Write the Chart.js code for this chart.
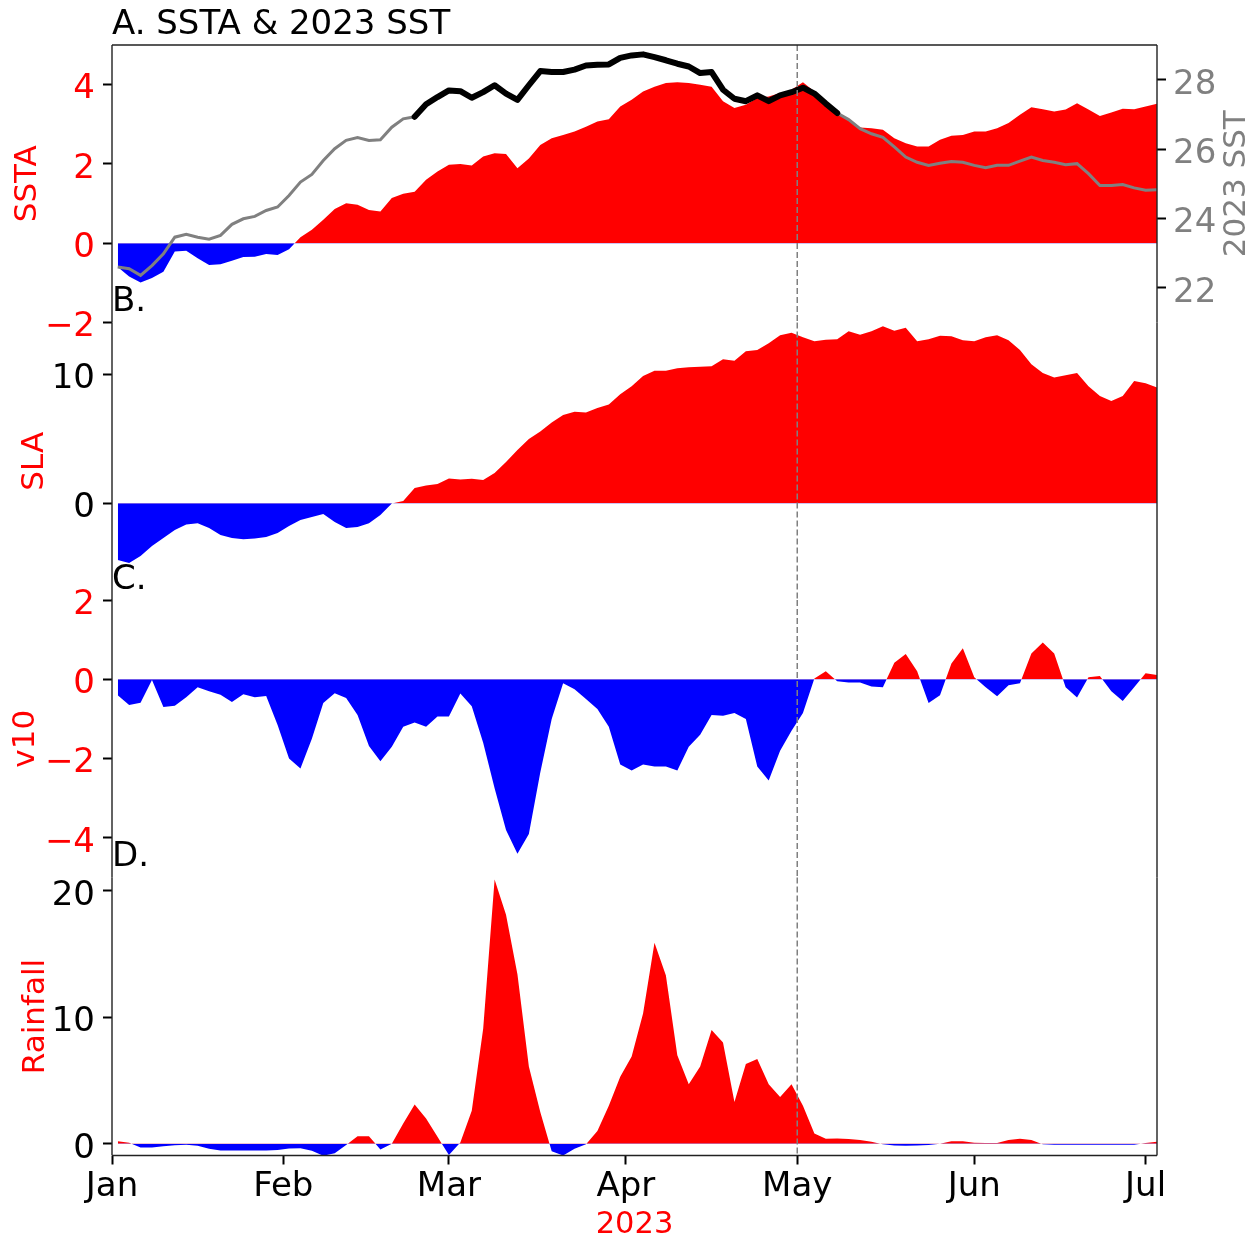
<!DOCTYPE html>
<html>
<head>
<meta charset="utf-8">
<title>SSTA, SLA, v10 and rainfall 2023</title>
<script src="https://cdn.jsdelivr.net/npm/chart.js@4.4.1/dist/chart.umd.min.js"></script>
<style>
  html, body { margin: 0; padding: 0; background: #fff; }
  #wrap { position: relative; width: 1258px; height: 1239px; }
  #wrap canvas { position: absolute; left: 0; top: 0; }
</style>
</head>
<body>
<div id="wrap">
  <canvas id="panel-a" width="1258" height="1239"></canvas>
  <canvas id="panel-b" width="1258" height="1239"></canvas>
  <canvas id="panel-c" width="1258" height="1239"></canvas>
  <canvas id="panel-d" width="1258" height="1239"></canvas>
</div>
<script>
// day of year (0 = Jan 1), every second day
const days = [1, 3, 5, 7, 9, 11, 13, 15, 17, 19, 21, 23, 25, 27, 29, 31, 33, 35, 37, 39,
  41, 43, 45, 47, 49, 51, 53, 55, 57, 59, 61, 63, 65, 67, 69, 71, 73, 75, 77, 79,
  81, 83, 85, 87, 89, 91, 93, 95, 97, 99, 101, 103, 105, 107, 109, 111, 113, 115, 117, 119,
  121, 123, 125, 127, 129, 131, 133, 135, 137, 139, 141, 143, 145, 147, 149, 151, 153, 155, 157, 159,
  161, 163, 165, 167, 169, 171, 173, 175, 177, 179, 181, 183];

const monthTicks = [0, 30, 59, 90, 120, 151, 181];
const monthLabels = ['Jan', 'Feb', 'Mar', 'Apr', 'May', 'Jun', 'Jul'];

const ssta = [-0.60, -0.84, -0.99, -0.88, -0.72, -0.21, -0.19, -0.38, -0.55, -0.53,
  -0.44, -0.35, -0.34, -0.27, -0.30, -0.15, 0.15, 0.34, 0.59, 0.86,
  1.01, 0.97, 0.84, 0.80, 1.14, 1.25, 1.30, 1.60, 1.81, 1.98,
  2.00, 1.96, 2.19, 2.27, 2.25, 1.89, 2.14, 2.48, 2.65, 2.73,
  2.82, 2.94, 3.07, 3.13, 3.45, 3.62, 3.83, 3.95, 4.04, 4.06,
  4.04, 4.00, 3.95, 3.58, 3.41, 3.49, 3.66, 3.70, 3.79, 3.87,
  4.06, 3.83, 3.58, 3.32, 3.11, 2.92, 2.90, 2.86, 2.65, 2.52,
  2.44, 2.44, 2.61, 2.71, 2.73, 2.82, 2.82, 2.90, 3.03, 3.24,
  3.43, 3.38, 3.32, 3.37, 3.53, 3.37, 3.21, 3.30, 3.39, 3.38,
  3.45, 3.52];

const sst2023 = [22.60, 22.55, 22.36, 22.64, 22.98, 23.46, 23.54, 23.46, 23.40, 23.51,
  23.83, 23.99, 24.06, 24.23, 24.33, 24.66, 25.05, 25.27, 25.67, 26.01,
  26.25, 26.33, 26.25, 26.27, 26.63, 26.87, 26.93, 27.29, 27.50, 27.69,
  27.67, 27.48, 27.64, 27.84, 27.60, 27.42, 27.84, 28.25, 28.22, 28.22,
  28.29, 28.41, 28.43, 28.44, 28.63, 28.70, 28.73, 28.65, 28.56, 28.46,
  28.38, 28.19, 28.22, 27.71, 27.45, 27.38, 27.55, 27.38, 27.55, 27.64,
  27.77, 27.60, 27.31, 27.04, 26.85, 26.59, 26.44, 26.34, 26.06, 25.77,
  25.62, 25.53, 25.59, 25.64, 25.62, 25.53, 25.46, 25.53, 25.53, 25.65,
  25.77, 25.67, 25.62, 25.55, 25.58, 25.29, 24.95, 24.95, 24.98, 24.88,
  24.81, 24.83];

const sla = [-4.40, -4.63, -4.09, -3.31, -2.69, -2.07, -1.65, -1.56, -1.92, -2.46,
  -2.69, -2.79, -2.73, -2.62, -2.31, -1.76, -1.30, -1.07, -0.84, -1.46,
  -1.92, -1.84, -1.56, -0.91, -0.02, 0.17, 1.18, 1.37, 1.49, 1.91,
  1.83, 1.90, 1.80, 2.34, 3.19, 4.12, 4.97, 5.55, 6.25, 6.83,
  7.08, 7.02, 7.37, 7.64, 8.45, 9.07, 9.85, 10.27, 10.26, 10.46,
  10.54, 10.58, 10.62, 11.16, 11.04, 11.78, 11.86, 12.40, 13.02, 13.20,
  12.86, 12.55, 12.67, 12.71, 13.33, 13.06, 13.33, 13.70, 13.37, 13.60,
  12.55, 12.71, 12.98, 12.94, 12.63, 12.55, 12.86, 13.02, 12.63, 11.86,
  10.77, 10.08, 9.74, 9.92, 10.08, 9.07, 8.30, 7.91, 8.30, 9.46,
  9.30, 8.97];

const v10 = [-0.40, -0.65, -0.59, -0.02, -0.70, -0.67, -0.45, -0.20, -0.30, -0.39,
  -0.57, -0.38, -0.45, -0.42, -1.15, -2.00, -2.25, -1.50, -0.60, -0.35,
  -0.47, -0.90, -1.68, -2.07, -1.70, -1.20, -1.09, -1.20, -0.94, -0.94,
  -0.36, -0.68, -1.60, -2.75, -3.80, -4.40, -3.90, -2.35, -1.00, -0.10,
  -0.25, -0.50, -0.75, -1.20, -2.15, -2.30, -2.15, -2.20, -2.20, -2.30,
  -1.70, -1.40, -0.90, -0.92, -0.85, -1.00, -2.20, -2.55, -1.80, -1.30,
  -0.85, 0.02, 0.20, -0.05, -0.08, -0.08, -0.18, -0.20, 0.42, 0.64,
  0.20, -0.60, -0.40, 0.40, 0.78, 0.05, -0.20, -0.43, -0.15, -0.10,
  0.65, 0.93, 0.65, -0.20, -0.46, 0.05, 0.08, -0.30, -0.55, -0.20,
  0.15, 0.11];

const rainfall = [0.20, 0.08, -0.30, -0.30, -0.20, -0.12, -0.08, -0.15, -0.40, -0.53,
  -0.53, -0.53, -0.53, -0.53, -0.50, -0.38, -0.35, -0.55, -0.95, -0.75,
  -0.10, 0.60, 0.60, -0.45, 0.00, 1.60, 3.10, 2.00, 0.55, -0.90,
  0.10, 2.60, 9.10, 20.90, 18.10, 13.40, 6.10, 2.50, -0.60, -0.93,
  -0.40, -0.05, 1.00, 3.00, 5.30, 6.90, 10.30, 15.90, 13.30, 7.00,
  4.70, 6.10, 9.00, 8.00, 3.30, 6.30, 6.70, 4.70, 3.70, 4.70,
  3.00, 0.80, 0.40, 0.42, 0.38, 0.30, 0.16, -0.05, -0.13, -0.15,
  -0.14, -0.10, 0.00, 0.20, 0.20, 0.08, 0.05, 0.05, 0.30, 0.40,
  0.30, -0.05, -0.08, -0.08, -0.08, -0.08, -0.08, -0.08, -0.08, -0.08,
  0.05, 0.15];

// part of the 2023 SST curve drawn in bold black
const sstBoldFrom = 53;
const sstBoldTo = 127;
const markerDay = 120;

const RED = '#ff0000';
const BLUE = '#0000ff';
const GREY = '#808080';

Chart.defaults.font.family = "'DejaVu Sans', sans-serif";
Chart.defaults.animation = false;
Chart.defaults.responsive = false;
Chart.defaults.events = [];

const minus = (v) => (v < 0 ? '\u2212' + Math.abs(v) : String(v));

// spines + dashed marker line, per panel
const framePlugin = {
  id: 'frame',
  afterDatasetsDraw(chart, args, opts) {
    const { ctx, chartArea: a } = chart;
    const x = chart.scales.x.getPixelForValue(markerDay);
    ctx.save();
    ctx.strokeStyle = GREY;
    ctx.lineWidth = 1.5;
    ctx.setLineDash([6, 3]);
    ctx.beginPath();
    ctx.moveTo(x, a.top);
    ctx.lineTo(x, a.bottom);
    ctx.stroke();
    ctx.setLineDash([]);
    ctx.strokeStyle = '#222';
    ctx.lineWidth = 1.4;
    ctx.beginPath();
    ctx.moveTo(a.left, a.top);
    ctx.lineTo(a.left, a.bottom);
    ctx.moveTo(a.right, a.top);
    ctx.lineTo(a.right, a.bottom);
    if (opts.top) { ctx.moveTo(a.left, a.top); ctx.lineTo(a.right, a.top); }
    if (opts.bottom) { ctx.moveTo(a.left, a.bottom); ctx.lineTo(a.right, a.bottom); }
    ctx.stroke();
    ctx.restore();
  },
};

// right-hand axis label, rotated like the left ones
const sideLabelPlugin = {
  id: 'sideLabel',
  afterDraw(chart, args, opts) {
    if (!opts.text) return;
    const { ctx, chartArea: a } = chart;
    ctx.save();
    ctx.translate(opts.x, (a.top + a.bottom) / 2);
    ctx.rotate(-Math.PI / 2);
    ctx.font = "31px 'DejaVu Sans'";
    ctx.fillStyle = opts.color;
    ctx.textAlign = 'center';
    ctx.textBaseline = 'middle';
    ctx.fillText(opts.text, 0, 0);
    ctx.restore();
  },
};

function tickGrid() {
  return { display: true, drawOnChartArea: false, drawTicks: true, tickLength: 9, tickWidth: 2, tickColor: '#000' };
}

function xAxis(show) {
  const axis = {
    type: 'linear',
    min: 0,
    max: 183,
    display: show,
    afterBuildTicks: (s) => { s.ticks = monthTicks.map((v) => ({ value: v })); },
    grid: tickGrid(),
    border: { display: false },
    ticks: {
      autoSkip: false, maxRotation: 0, padding: 2.5, color: '#000',
      font: { size: 34 },
      callback: (v, i) => monthLabels[i],
    },
    title: {
      display: true, text: '2023', color: RED,
      font: { size: 30.5, lineHeight: 0.92 }, padding: { top: 0, bottom: 0 },
    },
  };
  if (show) axis.afterFit = (s) => { s.height = 83.5; };
  return axis;
}

function yAxis(o) {
  return {
    type: 'linear',
    position: o.position || 'left',
    min: o.min,
    max: o.max,
    afterBuildTicks: (s) => { s.ticks = o.ticks.map((v) => ({ value: v })); },
    afterFit: (s) => { s.width = o.width; },
    grid: tickGrid(),
    border: { display: false },
    ticks: {
      autoSkip: false, color: o.tickColor, padding: o.pad, labelOffset: 5,
      font: { size: 34 }, callback: minus,
    },
    title: o.label
      ? { display: true, text: o.label, color: RED, font: { size: 31 }, padding: { top: o.labelPad, bottom: 0 } }
      : { display: false },
  };
}

function areaDataset(values) {
  return {
    data: values,
    yAxisID: 'y',
    borderWidth: 0,
    borderColor: 'rgba(0,0,0,0)',
    pointRadius: 0,
    tension: 0,
    fill: { target: 'origin', above: RED, below: BLUE },
    order: 3,
  };
}

function panelTitle(text) {
  return {
    display: true, text, align: 'start', fullSize: false, color: '#000',
    font: { size: 34, weight: 'normal', lineHeight: 1.15 },
    padding: { top: 0, bottom: 0.65 },
  };
}

// panel A: SSTA fill + 2023 SST line on the right axis
new Chart(document.getElementById('panel-a'), {
  type: 'line',
  data: {
    labels: days,
    datasets: [
      areaDataset(ssta),
      {
        data: sst2023, yAxisID: 'y2', borderColor: GREY, borderWidth: 3,
        pointRadius: 0, tension: 0, fill: false, order: 2,
      },
      {
        data: sst2023.map((v, i) => (days[i] >= sstBoldFrom && days[i] <= sstBoldTo ? v : null)),
        yAxisID: 'y2', borderColor: '#000', borderWidth: 6, borderJoinStyle: 'round', borderCapStyle: 'round',
        pointRadius: 0, tension: 0, fill: false, order: 1,
      },
    ],
  },
  options: {
    layout: { padding: { top: 5.25, bottom: 916.5, left: 0, right: 0 } },
    scales: {
      x: xAxis(false),
      y: yAxis({ min: -2, max: 5, ticks: [-2, 0, 2, 4], width: 112, pad: 8, tickColor: RED, label: 'SSTA', labelPad: 9.4 }),
      y2: yAxis({ position: 'right', min: 21, max: 29, ticks: [22, 24, 26, 28], width: 101, pad: 7, tickColor: GREY }),
    },
    plugins: {
      legend: { display: false },
      tooltip: { enabled: false },
      title: panelTitle('A. SSTA & 2023 SST'),
      frame: { top: true },
      sideLabel: { text: '2023 SST', x: 1237, color: GREY },
    },
  },
  plugins: [framePlugin, sideLabelPlugin],
});

// panel B: SLA
new Chart(document.getElementById('panel-b'), {
  type: 'line',
  data: { labels: days, datasets: [areaDataset(sla)] },
  options: {
    layout: { padding: { top: 282.75, bottom: 639, left: 0, right: 101 } },
    scales: {
      x: xAxis(false),
      y: yAxis({ min: -7.5, max: 14, ticks: [0, 10], width: 112, pad: 8, tickColor: '#000', label: 'SLA', labelPad: 15.9 }),
    },
    plugins: {
      legend: { display: false },
      tooltip: { enabled: false },
      title: panelTitle('B.'),
    },
  },
  plugins: [framePlugin],
});

// panel C: v10
new Chart(document.getElementById('panel-c'), {
  type: 'line',
  data: { labels: days, datasets: [areaDataset(v10)] },
  options: {
    layout: { padding: { top: 560.25, bottom: 361.5, left: 0, right: 101 } },
    scales: {
      x: xAxis(false),
      y: yAxis({ min: -5, max: 2, ticks: [-4, -2, 0, 2], width: 112, pad: 8, tickColor: RED, label: 'v10', labelPad: 7.7 }),
    },
    plugins: {
      legend: { display: false },
      tooltip: { enabled: false },
      title: panelTitle('C.'),
    },
  },
  plugins: [framePlugin],
});

// panel D: rainfall, carries the date axis
new Chart(document.getElementById('panel-d'), {
  type: 'line',
  data: { labels: days, datasets: [areaDataset(rainfall)] },
  options: {
    layout: { padding: { top: 837.75, bottom: 0, left: 0, right: 101 } },
    scales: {
      x: xAxis(true),
      y: yAxis({ min: -0.93, max: 21.05, ticks: [0, 10, 20], width: 112, pad: 8, tickColor: '#000', label: 'Rainfall', labelPad: 16.9 }),
    },
    plugins: {
      legend: { display: false },
      tooltip: { enabled: false },
      title: panelTitle('D.'),
      frame: { bottom: true },
    },
  },
  plugins: [framePlugin],
});
</script>
</body>
</html>
